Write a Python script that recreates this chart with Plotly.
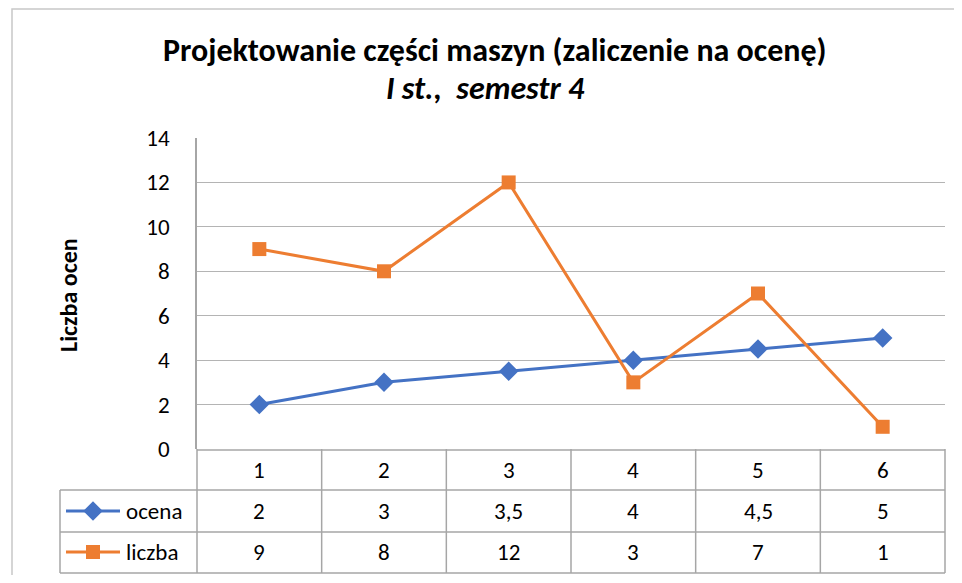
import plotly.graph_objects as go

categories = [1, 2, 3, 4, 5, 6]
ocena = [2, 3, 3.5, 4, 4.5, 5]
liczba = [9, 8, 12, 3, 7, 1]
series_names = ["ocena", "liczba"]
y_ticks = [0, 2, 4, 6, 8, 10, 12, 14]
title_line1 = "Projektowanie części maszyn (zaliczenie na ocenę)"
title_line2 = "I st.,\u00a0 semestr 4"
y_title = "Liczba ocen"

BLUE = "#4472C4"
ORANGE = "#ED7D31"
GRID = "#B4B4B4"
TABLE = "#A6A6A6"
FONT = "Carlito, Calibri, Lato, sans-serif"

# page body has an 8px margin; figure drawn at offset OFF
OFF = 8
W, H = 946, 567


def px_x(px):
    return (px - OFF) / W


def px_y(py):
    return 1 - (py - OFF) / H


def fmt(v):
    return ("%g" % v).replace(".", ",")


# plot area in reference pixels
PX0, PX1, PY0, PY1 = 197, 945, 138, 449

fig = go.Figure()
fig.add_trace(go.Scatter(x=categories, y=ocena, name=series_names[0], mode="lines+markers",
                         line=dict(color=BLUE, width=3),
                         marker=dict(symbol="diamond", size=15, color=BLUE), showlegend=False))
fig.add_trace(go.Scatter(x=categories, y=liczba, name=series_names[1], mode="lines+markers",
                         line=dict(color=ORANGE, width=3),
                         marker=dict(symbol="square", size=14, color=ORANGE), showlegend=False))

shapes = []
annotations = []

# outer chart border
shapes.append(dict(type="rect", xref="paper", yref="paper",
                   x0=px_x(12), x1=px_x(957), y0=px_y(620), y1=px_y(9),
                   line=dict(color="#C8C8C8", width=1.5), fillcolor="rgba(0,0,0,0)"))

row_lines = [450, 490, 532, 573]
n = len(categories)

for i, ry in enumerate(row_lines):
    x0 = px_x(PX0) if i == 0 else px_x(60)
    shapes.append(dict(type="line", xref="paper", yref="paper", x0=x0, x1=px_x(PX1),
                       y0=px_y(ry), y1=px_y(ry), line=dict(color=TABLE, width=1.5)))
for i in range(n + 1):
    xe = px_x(PX0 + (PX1 - PX0) * i / n)
    shapes.append(dict(type="line", xref="paper", yref="paper", x0=xe, x1=xe,
                       y0=px_y(449), y1=px_y(573), line=dict(color=TABLE, width=1.5)))
shapes.append(dict(type="line", xref="paper", yref="paper", x0=px_x(60), x1=px_x(60),
                   y0=px_y(490), y1=px_y(573), line=dict(color=TABLE, width=1.5)))

row_centers = [470, 511, 552]
rows = [[str(c) for c in categories], [fmt(v) for v in ocena], [fmt(v) for v in liczba]]
for r, vals in enumerate(rows):
    for c, txt in enumerate(vals):
        annotations.append(dict(x=categories[c], xref="x", y=px_y(row_centers[r]), yref="paper",
                                text=txt, showarrow=False, font=dict(family=FONT, size=23, color="#000000"),
                                xanchor="center", yanchor="middle"))

# legend keys in table (own small axes over the legend column)
keys = [(series_names[0], BLUE, "diamond", 15, 511, "x3", "y3"),
        (series_names[1], ORANGE, "square", 14, 552, "x4", "y4")]
for name, color, sym, msz, ry, xa, ya in keys:
    fig.add_trace(go.Scatter(x=[0, 1], y=[0.5, 0.5], xaxis=xa, yaxis=ya, mode="lines",
                             line=dict(color=color, width=3), showlegend=False, hoverinfo="skip"))
    fig.add_trace(go.Scatter(x=[0.5], y=[0.5], xaxis=xa, yaxis=ya, mode="markers",
                             marker=dict(symbol=sym, size=msz, color=color),
                             showlegend=False, hoverinfo="skip", cliponaxis=False))
    annotations.append(dict(x=px_x(124), xref="paper", y=px_y(ry), yref="paper", text=name,
                            showarrow=False, xanchor="left", yanchor="middle",
                            font=dict(family=FONT, size=23, color="#000000")))

annotations.append(dict(x=px_x(495), xref="paper", y=px_y(50), yref="paper",
                        text="<b>" + title_line1 + "</b>", showarrow=False,
                        xanchor="center", yanchor="middle", font=dict(family=FONT, size=32, color="#000000")))
annotations.append(dict(x=px_x(486), xref="paper", y=px_y(88), yref="paper",
                        text="<b><i>" + title_line2 + "</i></b>", showarrow=False,
                        xanchor="center", yanchor="middle", font=dict(family=FONT, size=32, color="#000000")))
annotations.append(dict(x=px_x(68), xref="paper", y=px_y(295), yref="paper",
                        text="<b>" + y_title + "</b>", showarrow=False, textangle=-90,
                        xanchor="center", yanchor="middle", font=dict(family=FONT, size=24, color="#000000")))


def key_axes(ry):
    return ([px_x(66), px_x(120)], [px_y(ry + 10), px_y(ry - 10)])


kx3, ky3 = key_axes(511)
kx4, ky4 = key_axes(552)

hidden = dict(range=[0, 1], visible=False, fixedrange=True, automargin=False)

fig.update_layout(
    width=W, height=H,
    margin=dict(l=0, r=0, t=0, b=0, autoexpand=False),
    paper_bgcolor="white", plot_bgcolor="white",
    font=dict(family=FONT, size=23, color="#000000"),
    showlegend=False,
    xaxis=dict(domain=[px_x(PX0), px_x(PX1)], range=[0.5, 6.5], showticklabels=False,
               showgrid=False, zeroline=False, showline=False, ticks="", automargin=False),
    yaxis=dict(domain=[px_y(PY1), px_y(PY0)], range=[0, 14], tickvals=y_ticks, showgrid=True,
               gridcolor=GRID, gridwidth=1.2, zeroline=False, showline=True, linecolor=TABLE,
               linewidth=1.5, ticks="", ticklabelstandoff=21, automargin=False,
               tickfont=dict(family=FONT, size=23, color="#000000")),
    xaxis3=dict(domain=kx3, anchor="y3", **hidden),
    yaxis3=dict(domain=ky3, anchor="x3", **hidden),
    xaxis4=dict(domain=kx4, anchor="y4", **hidden),
    yaxis4=dict(domain=ky4, anchor="x4", **hidden),
    shapes=shapes,
    annotations=annotations,
)

fig.write_html("out.html")
